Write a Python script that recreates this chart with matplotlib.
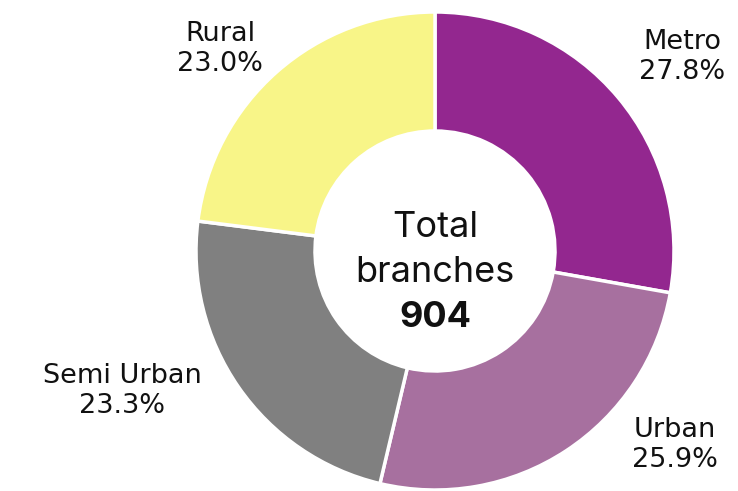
#!/usr/bin/env python3

import matplotlib
matplotlib.use("Agg")
import matplotlib.pyplot as plt

# data
categories = ["Metro", "Urban", "Semi Urban", "Rural"]
shares = [27.8, 25.9, 23.3, 23.0]
total_branches = 904

colors = ["#93278F", "#A7709F", "#808080", "#F8F588"]

# label anchor points (pixels, y up) and donut geometry
label_xy = [(682, 434), (675, 46), (122, 100), (220, 442)]
cx, cy = 435, 240
radius = 239
ring = 119

W, H = 738, 491
fig = plt.figure(figsize=(W / 100, H / 100), dpi=100)
ax = fig.add_axes([0, 0, 1, 1])

wedges, _ = ax.pie(
    shares,
    colors=colors,
    startangle=90,
    counterclock=False,
    center=(cx, cy),
    radius=radius,
    wedgeprops=dict(width=ring, edgecolor="white", linewidth=2.5),
    frame=True,
)
ax.set_xlim(0, W)
ax.set_ylim(0, H)
ax.set_aspect("equal")
ax.axis("off")

for name, pct, (lx, ly) in zip(categories, shares, label_xy):
    ax.text(lx, ly, f"{name}\n{pct:.1f}%", ha="center", va="center",
            fontsize=19.5, family="DejaVu Sans", linespacing=1.22, color="#111111")

center_font = ["Inter", "DejaVu Sans"]
ax.text(cx, cy + 14, "Total", ha="center", va="baseline",
        fontsize=26, family=center_font, color="#111111")
ax.text(cx, cy - 31, "branches", ha="center", va="baseline",
        fontsize=26, family=center_font, color="#111111")
ax.text(cx, cy - 76, f"{total_branches}", ha="center", va="baseline",
        fontsize=26, family=center_font, fontweight="bold", color="#111111")

fig.savefig("out.png", dpi=100)
